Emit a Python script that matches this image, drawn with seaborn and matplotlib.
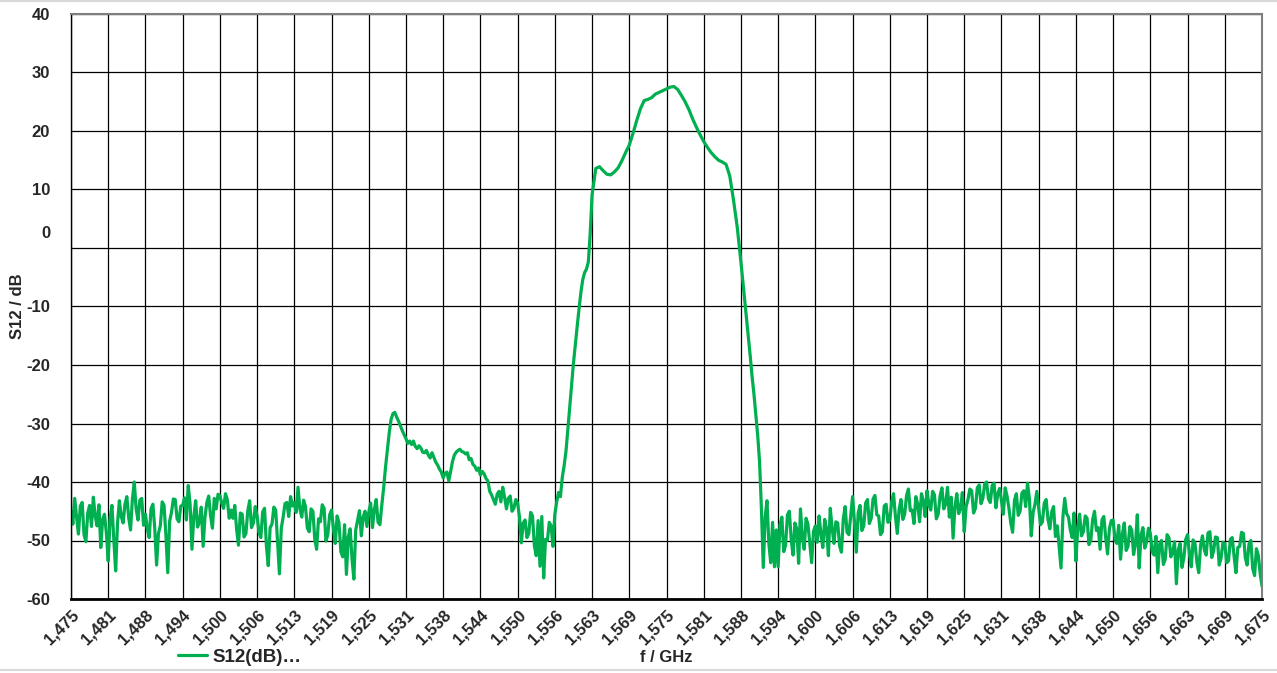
import numpy as np
import matplotlib
matplotlib.use('Agg')
import matplotlib.pyplot as plt
import matplotlib.transforms as mtransforms
from matplotlib.lines import Line2D
import seaborn as sns

# S12 readings per 6.25 MHz grid cell (1.475 ... 1.675 GHz), points evenly spread in each cell
cell_00 = [-45.0, -47.2, -42.8, -46.0, -48.9, -44.1, -43.5, -49.0, -50.2, -45.3,
           -44.0, -47.6, -42.6, -45.8, -47.5, -43.9, -51.2, -46.4, -45.5, -48.7]
cell_01 = [-53.5, -46.2, -44.0, -49.8, -55.2, -47.0, -43.2, -45.9, -47.0, -43.8,
           -42.5, -46.1, -48.2, -42.9, -40.0, -44.6, -46.5, -43.1, -42.8, -47.4]
cell_02 = [-45.5, -48.0, -49.5, -44.6, -43.8, -47.9, -54.2, -48.8, -47.5, -43.4,
           -44.0, -49.1, -55.5, -46.7, -45.2, -42.9, -43.0, -46.3, -46.8, -44.1]
cell_03 = [-44.0, -42.7, -46.5, -40.6, -43.8, -51.5, -45.9, -43.2, -47.7, -46.8,
           -44.3, -51.0, -46.0, -43.5, -42.4, -45.8, -47.9, -42.8, -44.6, -42.1]
cell_04 = [-42.3, -43.6, -44.5, -42.0, -43.0, -46.2, -44.8, -46.2, -44.0, -48.1,
           -50.8, -45.3, -45.5, -49.4, -48.8, -44.9, -43.2, -47.8, -47.0, -44.2]
cell_05 = [-45.8, -48.6, -49.5, -45.1, -44.5, -50.9, -54.3, -47.8, -47.2, -44.3,
           -44.8, -50.2, -55.7, -47.9, -46.0, -43.7, -43.5, -45.9, -42.5, -44.1]
cell_06 = [-43.5, -45.2, -40.9, -44.6, -46.0, -43.1, -44.2, -47.9, -48.5, -44.6,
           -45.0, -49.8, -51.5, -46.3, -46.8, -43.9, -44.5, -50.1, -49.0, -45.6]
cell_07 = [-44.8, -47.9, -50.5, -45.8, -47.0, -51.9, -52.8, -47.3, -55.8, -49.4,
           -48.0, -53.1, -56.6, -48.2, -46.5, -44.9, -49.2, -46.0, -45.0, -47.6]
cell_08 = [-45.2, -43.6, -47.8, -44.7, -43.0, -46.9, -47.3, -44.0, -41.0, -37.5,
           -34.6, -31.6, -29.3, -28.3, -28.1, -28.9, -29.6, -30.4, -31.2, -31.9]
cell_09 = [-32.6, -33.4, -33.0, -33.6, -33.0, -33.9, -34.3, -33.8, -34.2, -34.9,
           -35.0, -34.6, -35.4, -35.9, -35.0, -35.8, -36.6, -37.1, -37.8, -38.3]
cell_10 = [-39.3, -38.5, -38.3, -39.8, -38.2, -36.5, -35.4, -34.9, -34.6, -34.4,
           -34.8, -34.9, -35.2, -35.0, -36.2, -36.0, -37.0, -37.3, -38.0, -37.6]
cell_11 = [-38.8, -38.2, -38.6, -39.4, -39.8, -41.6, -42.2, -43.0, -43.8, -42.1,
           -41.6, -43.4, -40.9, -42.6, -44.6, -42.8, -42.4, -45.0, -44.5, -43.0]
cell_12 = [-43.6, -46.0, -50.4, -47.0, -46.5, -49.5, -48.8, -45.2, -45.8, -50.9,
           -52.6, -46.6, -54.4, -45.9, -56.4, -49.8, -50.0, -46.9, -47.5, -51.0]
cell_13 = [-45.5, -43.4, -41.8, -42.5, -39.2, -37.2, -34.7, -31.0, -27.2, -23.4,
           -19.7, -16.5, -13.4, -10.4, -7.6, -5.4, -4.2, -3.6, -2.4, 2.5]
cell_14 = [9.1, 13.6, 13.9, 13.2, 12.6, 12.5, 13.0, 13.7, 14.9, 16.3]
cell_15 = [17.6, 19.6, 21.8, 23.8, 25.2, 25.4, 25.7, 26.3, 26.6, 26.9]
cell_16 = [27.2, 27.5, 27.6, 27.1, 26.1, 25.0, 23.7, 22.1, 20.7, 19.4]
cell_17 = [18.2, 17.2, 16.3, 15.6, 15.0, 14.7, 14.3, 12.3, 8.2, 3.6]
cell_18 = [-2.4, -5.6, -8.8, -12.0, -15.1, -18.5, -22.0, -25.0, -28.4, -32.0,
           -36.5, -44.5, -54.6, -46.0, -43.2, -50.5, -53.8, -46.9, -54.5, -48.2]
cell_19 = [-54.5, -47.3, -46.0, -51.9, -50.8, -45.6, -45.0, -49.8, -52.5, -47.0,
           -48.0, -53.9, -44.6, -49.5, -51.5, -46.2, -47.2, -50.6, -53.8, -48.4]
cell_20 = [-47.5, -50.3, -45.8, -48.9, -51.2, -46.4, -48.0, -52.6, -44.5, -47.9,
           -50.5, -46.8, -47.0, -50.9, -52.0, -46.3, -44.2, -48.6, -49.0, -45.7]
cell_21 = [-42.5, -46.8, -52.0, -45.3, -44.0, -48.3, -47.5, -43.6, -43.0, -47.1,
           -46.2, -42.9, -42.3, -45.6, -45.8, -49.0, -48.5, -44.1, -43.8, -46.9]
cell_22 = [-46.5, -43.4, -42.0, -45.8, -48.8, -44.7, -43.0, -46.4, -45.5, -42.3,
           -41.2, -44.9, -44.8, -47.1, -42.5, -43.8, -46.8, -42.0, -43.2, -45.9]
cell_23 = [-41.5, -43.9, -44.8, -41.6, -42.2, -46.3, -45.5, -42.4, -41.0, -44.6,
           -43.8, -40.9, -46.0, -42.6, -49.6, -44.3, -42.0, -45.4, -44.5, -41.8]
cell_24 = [-48.5, -44.2, -43.0, -41.2, -41.5, -45.3, -44.5, -41.0, -40.5, -43.7,
           -42.8, -40.3, -40.0, -42.9, -43.5, -40.6, -40.2, -44.4, -42.0, -41.1]
cell_25 = [-43.2, -45.5, -41.0, -42.4, -44.5, -47.0, -48.6, -43.1, -42.0, -45.7,
           -45.0, -41.9, -41.5, -44.2, -40.2, -42.8, -49.2, -45.2, -43.8, -41.6]
cell_26 = [-44.5, -47.3, -46.8, -43.6, -43.0, -46.4, -48.0, -45.1, -44.2, -49.3,
           -47.5, -51.2, -54.7, -46.0, -42.8, -45.4, -46.0, -48.2, -49.5, -45.3]
cell_27 = [-53.5, -47.9, -45.5, -49.2, -48.5, -45.8, -46.2, -50.7, -50.0, -46.4,
           -45.0, -48.3, -47.8, -51.5, -46.5, -45.9, -49.5, -52.3, -48.0, -46.6]
cell_28 = [-46.5, -49.8, -50.5, -47.4, -53.2, -48.9, -47.0, -51.7, -51.0, -47.6,
           -48.2, -52.4, -50.6, -45.6, -54.7, -49.1, -47.8, -51.3, -50.2, -47.9]
cell_29 = [-48.8, -51.9, -52.5, -49.3, -55.5, -50.6, -50.0, -54.1, -53.2, -49.0,
           -49.5, -52.8, -52.0, -50.2, -57.4, -51.6, -50.5, -54.6, -53.0, -49.8]
cell_30 = [-49.0, -52.3, -54.5, -49.9, -50.5, -53.7, -55.5, -50.8, -49.2, -51.6,
           -52.5, -48.7, -48.5, -52.9, -51.8, -49.4, -49.5, -54.2, -53.0, -50.3]
cell_31 = [-50.5, -53.8, -53.5, -49.8, -49.5, -52.7, -55.5, -51.2, -51.0, -48.6,
           -48.8, -52.9, -54.2, -50.6, -50.0, -54.8, -56.0, -51.4, -52.5, -55.6]
last_point = [-57.8]

x_ticks = np.linspace(1.475, 1.675, 33)
x_labels = ['1,475', '1,481', '1,488', '1,494', '1,500', '1,506', '1,513', '1,519',
            '1,525', '1,531', '1,538', '1,544', '1,550', '1,556', '1,563', '1,569',
            '1,575', '1,581', '1,588', '1,594', '1,600', '1,606', '1,613', '1,619',
            '1,625', '1,631', '1,638', '1,644', '1,650', '1,656', '1,663', '1,669',
            '1,675']
y_ticks = [-60, -50, -40, -30, -20, -10, 0, 10, 20, 30, 40]
y_labels = ['-60', '-50', '-40', '-30', '-20', '-10', '0', '10', '20', '30', '40']

cells = [cell_00, cell_01, cell_02, cell_03, cell_04, cell_05, cell_06, cell_07,
         cell_08, cell_09, cell_10, cell_11, cell_12, cell_13, cell_14, cell_15,
         cell_16, cell_17, cell_18, cell_19, cell_20, cell_21, cell_22, cell_23,
         cell_24, cell_25, cell_26, cell_27, cell_28, cell_29, cell_30, cell_31]
step = 0.00625
freq, s12 = [], []
for k, c in enumerate(cells):
    freq.extend(x_ticks[k] + np.arange(len(c)) * step / len(c))
    s12.extend(c)
freq.append(x_ticks[-1])
s12.extend(last_point)
freq = np.array(freq)
s12 = np.array(s12)

sns.set_style('white')
plt.rcParams['font.family'] = ['Liberation Sans', 'DejaVu Sans']
plt.rcParams['font.weight'] = 'bold'

fig = plt.figure(figsize=(12.77, 6.73), dpi=100)
ax = fig.add_axes([71 / 1277, 1 - 599 / 673, (1262 - 71) / 1277, (599 - 14) / 673])

green = '#00B050'
sns.lineplot(x=freq, y=s12, ax=ax, color=green, linewidth=2.3, sort=False, label='S12(dB)…')

ax.set_xlim(1.475, 1.675)
ax.set_ylim(-60, 40)
ax.set_xticks(x_ticks)
ax.set_xticklabels(x_labels, rotation=45, ha='right', rotation_mode='anchor',
                   fontsize=12, fontweight='bold')
ax.set_yticks(y_ticks)
ax.set_yticklabels(y_labels, fontsize=12, fontweight='bold')
ax.tick_params(axis='both', length=0)
ax.tick_params(axis='y', pad=15)
ax.tick_params(axis='x', pad=6)

# the "0" label sits a bit above its gridline in the original
for lab in ax.get_yticklabels():
    if lab.get_text() == '0':
        lab.set_transform(lab.get_transform() +
                          mtransforms.ScaledTranslation(0, 16 / 100, fig.dpi_scale_trans))

ax.grid(True, color='black', linewidth=0.9)
ax.set_axisbelow(True)
for side in ['top', 'right']:
    ax.spines[side].set_color('#7f7f7f')
    ax.spines[side].set_linewidth(1.5)
ax.spines['left'].set_color('black')
ax.spines['left'].set_linewidth(1.0)
ax.spines['bottom'].set_color('black')
ax.spines['bottom'].set_linewidth(2.0)

ax.set_xlabel('f / GHz', fontsize=12, fontweight='bold')
ax.set_ylabel('S12 / dB', fontsize=12, fontweight='bold')
ax.xaxis.set_label_coords(0.5, (599 - 650) / 585)
ax.yaxis.set_label_coords((25 - 71) / 1191, 0.5)

ax.get_legend().remove()
handle = Line2D([], [], color=green, linewidth=2.3)
fig.legend([handle], ['S12(dB)…'], loc='center left',
           bbox_to_anchor=(170 / 1277, 1 - 657 / 673), frameon=False, borderaxespad=0,
           handlelength=1.55, handletextpad=0.3, prop={'size': 13.5, 'weight': 'bold'})

fig.add_artist(Line2D([0, 1], [0.999, 0.999], color='#d9d9d9', linewidth=1.5))
fig.add_artist(Line2D([0, 1], [0.004, 0.004], color='#d9d9d9', linewidth=1.5))

fig.savefig('out.png', dpi=100)
